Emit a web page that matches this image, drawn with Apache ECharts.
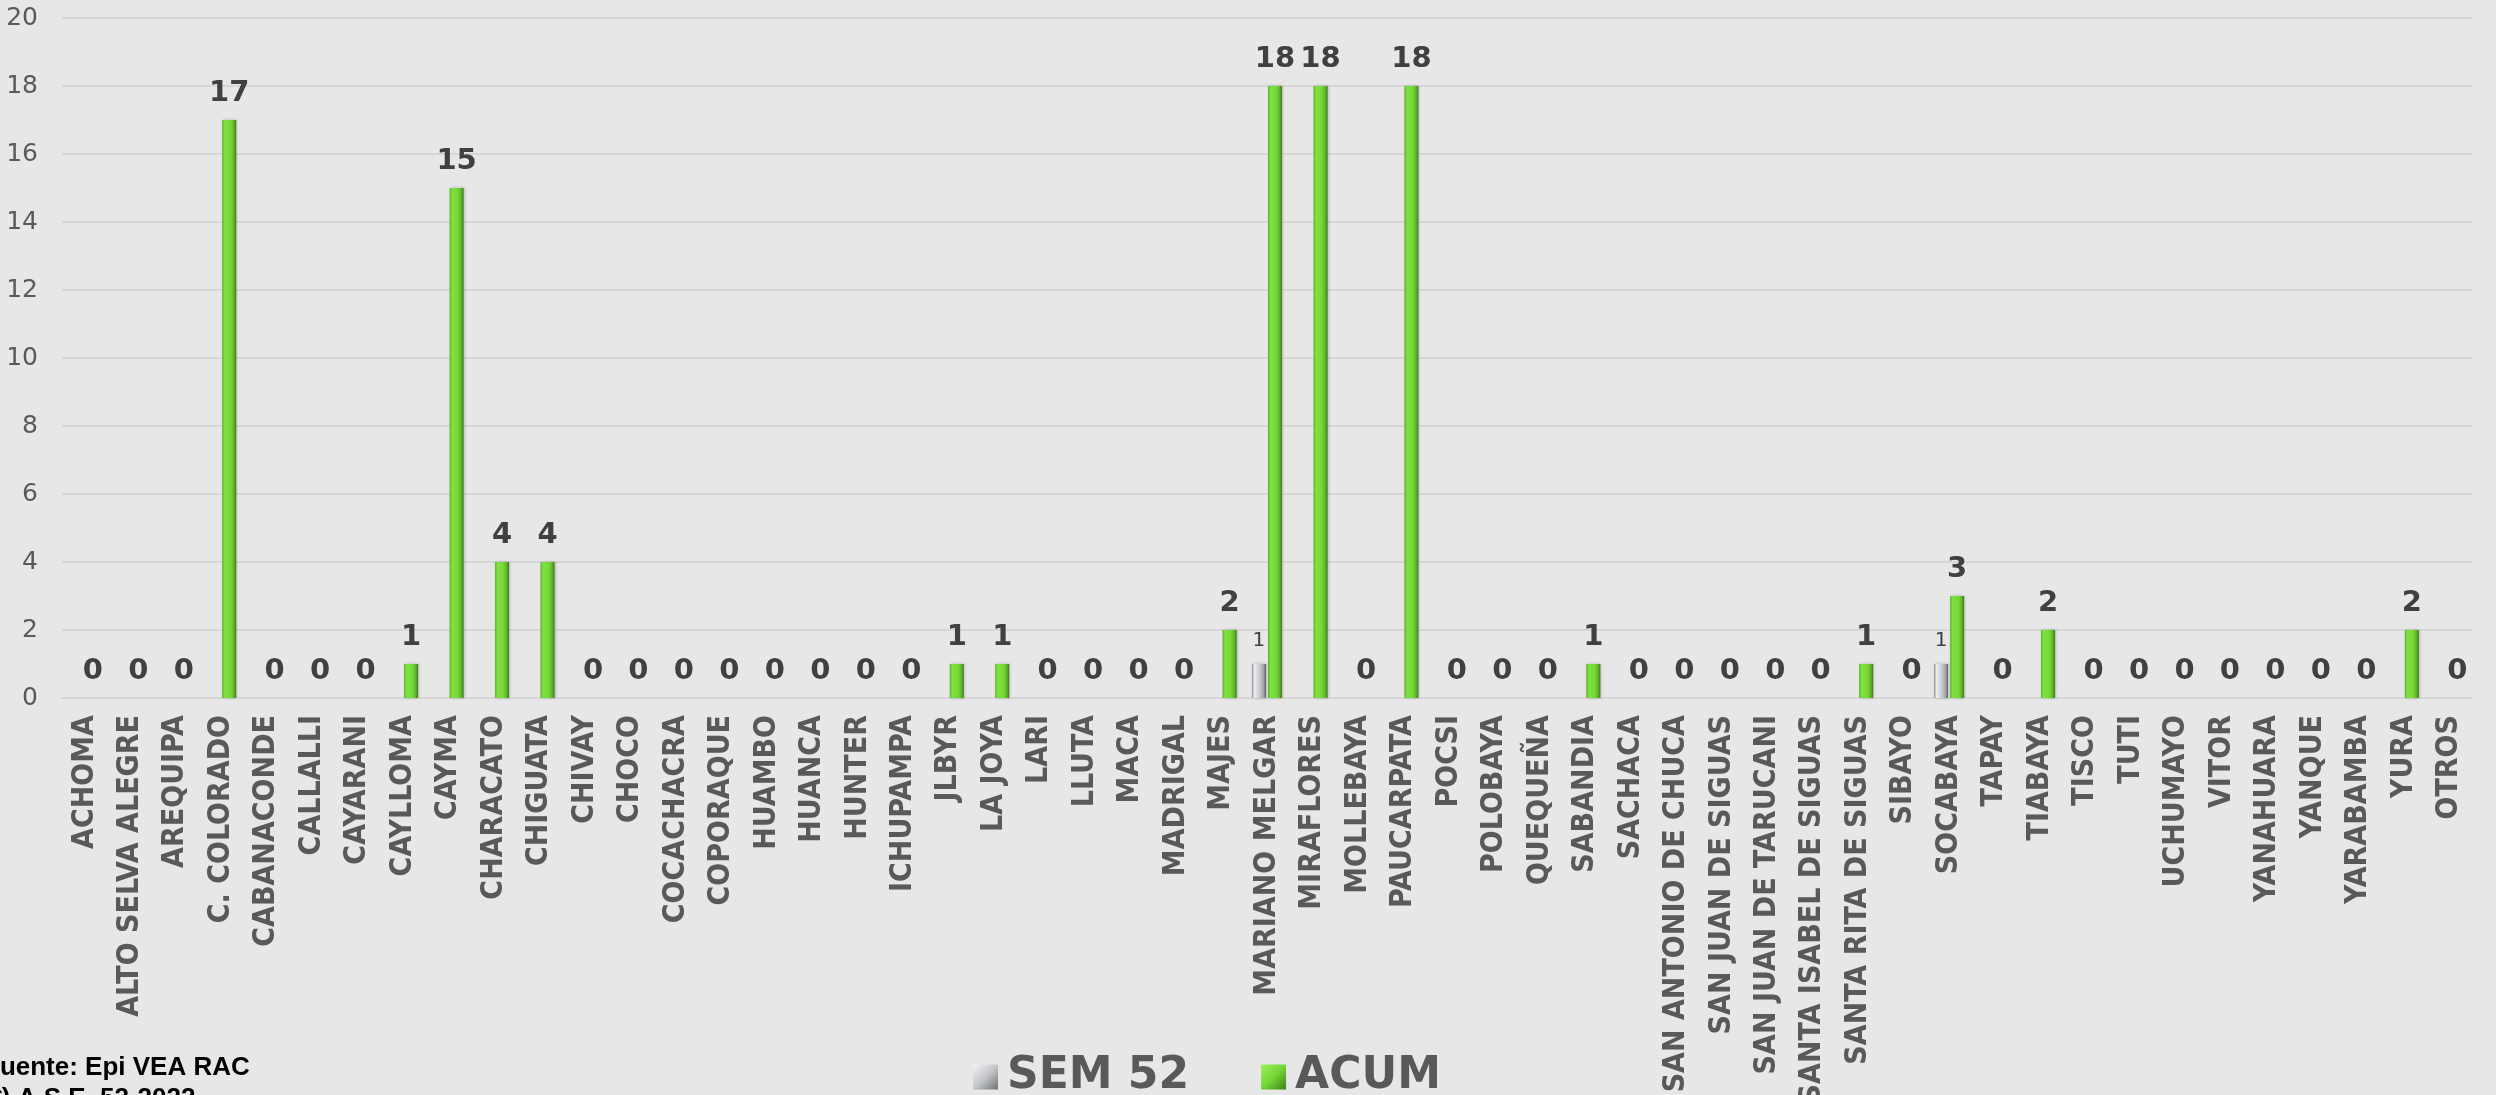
<!DOCTYPE html>
<html>
<head>
<meta charset="utf-8">
<script src="https://cdn.jsdelivr.net/npm/echarts@6/dist/echarts.min.js"></script>
<style>
  html, body { margin: 0; padding: 0; background: #e7e7e7; }
  #chart { width: 2496px; height: 1095px; }
</style>
</head>
<body>
<div id="chart"></div>
<script>
// Distritos
const districts = [
  'ACHOMA', 'ALTO SELVA ALEGRE', 'AREQUIPA', 'C. COLORADO', 'CABANACONDE', 'CALLALLI',
  'CAYARANI', 'CAYLLOMA', 'CAYMA', 'CHARACATO', 'CHIGUATA', 'CHIVAY', 'CHOCO',
  'COCACHACRA', 'COPORAQUE', 'HUAMBO', 'HUANCA', 'HUNTER', 'ICHUPAMPA', 'JLBYR',
  'LA JOYA', 'LARI', 'LLUTA', 'MACA', 'MADRIGAL', 'MAJES', 'MARIANO MELGAR',
  'MIRAFLORES', 'MOLLEBAYA', 'PAUCARPATA', 'POCSI', 'POLOBAYA', 'QUEQUEÑA',
  'SABANDIA', 'SACHACA', 'SAN ANTONIO DE CHUCA', 'SAN JUAN DE SIGUAS',
  'SAN JUAN DE TARUCANI', 'SANTA ISABEL DE SIGUAS', 'SANTA RITA DE SIGUAS', 'SIBAYO',
  'SOCABAYA', 'TAPAY', 'TIABAYA', 'TISCO', 'TUTI', 'UCHUMAYO', 'VITOR', 'YANAHUARA',
  'YANQUE', 'YARABAMBA', 'YURA', 'OTROS'
];

// Casos en la semana 52
const sem52 = [
  0, 0, 0, 0, 0, 0,
  0, 0, 0, 0, 0, 0, 0,
  0, 0, 0, 0, 0, 0, 0,
  0, 0, 0, 0, 0, 0, 1,
  0, 0, 0, 0, 0, 0,
  0, 0, 0, 0,
  0, 0, 0, 0,
  1, 0, 0, 0, 0, 0, 0, 0,
  0, 0, 0, 0
];

// Casos acumulados
const acum = [
  0, 0, 0, 17, 0, 0,
  0, 1, 15, 4, 4, 0, 0,
  0, 0, 0, 0, 0, 0, 1,
  1, 0, 0, 0, 0, 2, 18,
  18, 0, 18, 0, 0, 0,
  1, 0, 0, 0,
  0, 0, 1, 0,
  3, 0, 2, 0, 0, 0, 0, 0,
  0, 0, 2, 0
];

const yTicks = { min: 0, max: 20, interval: 2 };

const grayFill = new echarts.graphic.LinearGradient(0, 0, 1, 0, [
  { offset: 0, color: '#8f9296' },
  { offset: 0.18, color: '#eceef0' },
  { offset: 0.55, color: '#c9cbce' },
  { offset: 0.85, color: '#9da0a4' },
  { offset: 1, color: '#55585c' }
]);
const greenFill = new echarts.graphic.LinearGradient(0, 0, 1, 0, [
  { offset: 0, color: '#58b226' },
  { offset: 0.18, color: '#80e241' },
  { offset: 0.6, color: '#76d836' },
  { offset: 0.85, color: '#5cb02a' },
  { offset: 1, color: '#3b7619' }
]);
// Legend swatches: diagonal shading gives the bevelled square look
const grayIcon = new echarts.graphic.LinearGradient(0, 0, 1, 1, [
  { offset: 0, color: '#f2f3f5' },
  { offset: 0.5, color: '#c4c6ca' },
  { offset: 1, color: '#6d7074' }
]);
const greenIcon = new echarts.graphic.LinearGradient(0, 0, 1, 1, [
  { offset: 0, color: '#9bef5e' },
  { offset: 0.5, color: '#74d634' },
  { offset: 1, color: '#3f7f1b' }
]);

const chart = echarts.init(document.getElementById('chart'), null, { renderer: 'canvas' });

chart.setOption({
  backgroundColor: '#e7e7e7',
  animation: false,
  grid: {
    left: 62, right: 24, top: 18, bottom: 397,
    containLabel: false,
    outerBoundsMode: 'none'
  },
  legend: {
    left: 968,
    top: 1050,
    itemWidth: 25,
    itemHeight: 25,
    itemGap: 72,
    icon: 'rect',
    textStyle: {
      fontFamily: 'DejaVu Sans',
      fontWeight: 'bold',
      fontSize: 44,
      color: '#595959',
      padding: [0, 0, 0, 4]
    },
    data: [
      { name: 'SEM 52', itemStyle: { color: grayIcon } },
      { name: 'ACUM', itemStyle: { color: greenIcon } }
    ]
  },
  xAxis: {
    type: 'category',
    data: districts,
    axisLine: { show: true, lineStyle: { color: '#d6d6d6', width: 2 } },
    axisTick: { show: false },
    axisLabel: {
      interval: 0,
      rotate: 90,
      margin: 17,
      fontFamily: 'DejaVu Sans Condensed, DejaVu Sans',
      fontWeight: 'bold',
      fontSize: 30,
      color: '#595959'
    }
  },
  yAxis: {
    type: 'value',
    min: yTicks.min,
    max: yTicks.max,
    interval: yTicks.interval,
    axisLine: { show: false },
    axisTick: { show: false },
    splitLine: { lineStyle: { color: '#d6d6d6', width: 2 } },
    axisLabel: {
      margin: 24,
      fontFamily: 'DejaVu Sans',
      fontSize: 25,
      color: '#595959'
    }
  },
  series: [
    {
      name: 'SEM 52',
      type: 'bar',
      data: sem52,
      barWidth: 14,
      barGap: '15%',
      itemStyle: {
        color: grayFill,
        shadowColor: 'rgba(0,0,0,0.25)',
        shadowBlur: 3,
        shadowOffsetX: 1
      },
      label: {
        show: true,
        position: 'top',
        distance: 13,
        fontFamily: 'DejaVu Sans',
        fontSize: 20,
        color: '#404040',
        formatter: p => (p.value > 0 ? String(p.value) : '')
      }
    },
    {
      name: 'ACUM',
      type: 'bar',
      data: acum,
      barWidth: 14,
      itemStyle: {
        color: greenFill,
        shadowColor: 'rgba(0,0,0,0.25)',
        shadowBlur: 3,
        shadowOffsetX: 1
      },
      label: {
        show: true,
        position: 'top',
        distance: 12,
        fontFamily: 'DejaVu Sans',
        fontWeight: 'bold',
        fontSize: 29,
        color: '#404040'
      }
    }
  ],
  graphic: [
    {
      type: 'text',
      left: -16,
      top: 1055,
      style: {
        text: 'Fuente: Epi VEA RAC',
        font: 'bold 26px "Liberation Sans", Arial, sans-serif',
        fill: '#000000'
      }
    },
    {
      type: 'text',
      left: -17,
      top: 1086,
      style: {
        text: '(*) A.S.E. 52-2022',
        font: 'bold 26px "Liberation Sans", Arial, sans-serif',
        fill: '#000000'
      }
    }
  ]
});
</script>
</body>
</html>
